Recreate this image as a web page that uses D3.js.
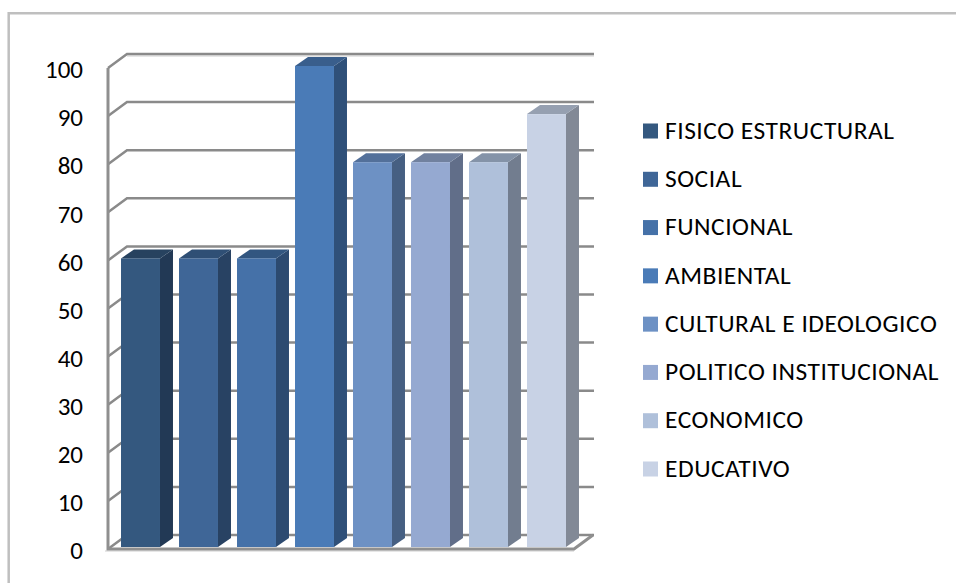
<!DOCTYPE html>
<html>
<head>
<meta charset="utf-8">
<script src="https://cdn.jsdelivr.net/npm/d3@7"></script>
<style>
  html, body { margin: 0; padding: 0; background: #fff; }
  text { font-family: Carlito, Lato, sans-serif; fill: #000; }
</style>
</head>
<body>
<div id="chart"></div>
<script>
var categories = ["FISICO ESTRUCTURAL", "SOCIAL", "FUNCIONAL", "AMBIENTAL",
    "CULTURAL E IDEOLOGICO", "POLITICO INSTITUCIONAL", "ECONOMICO", "EDUCATIVO"];
var values = [60, 60, 60, 100, 80, 80, 80, 90];
var yTicks = [0, 10, 20, 30, 40, 50, 60, 70, 80, 90, 100];
var frontColors = ["#34587f", "#3f6697", "#4571a8", "#4a7bb7", "#6d91c4", "#95a9d1", "#afc0da", "#c8d2e5"];
var sideColors = ["#223955", "#284263", "#2c4a70", "#2f5079", "#465f82", "#616e89", "#727d8f", "#828996"];
var topColors = ["#27425f", "#2f4f75", "#325680", "#395e8c", "#53709a", "#71819f", "#8493a8", "#96a0b1"];

var width = 956, height = 583;
var dx = 19, dy = -14;       // wall depth
var barDx = 13, barDy = -9;  // bar depth
var axisX = 108, floorEnd = 574;

var svg = d3.select("#chart").append("svg")
    .attr("width", width)
    .attr("height", height)
    .style("display", "block");

// chart frame, runs off the picture on the right and bottom
svg.append("path")
    .attr("d", "M8.7,583V13.2H956")
    .attr("fill", "none")
    .attr("stroke", "#bfbfbf")
    .attr("stroke-width", 2.5);

var x = d3.scaleBand()
    .domain(categories)
    .range([111.5, 575.5])
    .paddingInner(0.328)
    .paddingOuter(0.164);

var y = d3.scaleLinear().domain([0, 100]).range([547, 66]);

// light edge under the top grid line
svg.append("path")
    .attr("d", "M" + (axisX + dx) + "," + (y(100) + 2 + dy + 2) + "H" + (floorEnd + dx + 1))
    .attr("stroke", "#dedede")
    .attr("stroke-width", 1.5);

// grid lines on the back wall and the floor
var grid = svg.append("g");
yTicks.forEach(function(t) {
    var yy = y(t) + 2;
    grid.append("path")
        .attr("d", "M" + axisX + "," + yy + "L" + (axisX + dx) + "," + (yy + dy) + "H" + (floorEnd + dx + 1))
        .attr("fill", "none")
        .attr("stroke", "#8a8a8a")
        .attr("stroke-width", 2.5);
});

// floor front and left axis
svg.append("path")
    .attr("d", "M105," + (y(0) + 4) + "H" + floorEnd)
    .attr("stroke", "#dedede")
    .attr("stroke-width", 1.5);
svg.append("path")
    .attr("d", "M" + axisX + "," + (y(100) + 2) + "V" + (y(0) + 2) + "H" + floorEnd + "L" + (floorEnd + dx) + "," + (y(0) + 2 + dy))
    .attr("fill", "none")
    .attr("stroke", "#8f8f8f")
    .attr("stroke-width", 3);

// 3d bars
var bars = svg.selectAll("g.bar")
    .data(values)
    .enter()
    .append("g")
    .attr("class", "bar");

bars.append("path")
    .attr("fill", function(d, i) { return sideColors[i]; })
    .attr("d", function(d, i) {
        var x1 = x(categories[i]) + x.bandwidth();
        return "M" + x1 + "," + y(d) + "l" + barDx + "," + barDy + "V" + (y(0) + barDy) + "L" + x1 + "," + y(0) + "Z";
    });

bars.append("path")
    .attr("fill", function(d, i) { return topColors[i]; })
    .attr("d", function(d, i) {
        var x0 = x(categories[i]);
        return "M" + x0 + "," + y(d) + "l" + barDx + "," + barDy + "h" + x.bandwidth() + "l" + (-barDx) + "," + (-barDy) + "Z";
    });

bars.append("rect")
    .attr("fill", function(d, i) { return frontColors[i]; })
    .attr("x", function(d, i) { return x(categories[i]); })
    .attr("y", function(d) { return y(d); })
    .attr("width", x.bandwidth())
    .attr("height", function(d) { return y(0) - y(d); });

// y tick labels
svg.selectAll("text.tick")
    .data(yTicks)
    .enter()
    .append("text")
    .attr("class", "tick")
    .attr("x", 83)
    .attr("y", function(d) { return y(d) + 3.5; })
    .attr("dy", "0.35em")
    .attr("text-anchor", "end")
    .style("font-size", "25px")
    .text(function(d) { return d; });

// legend
var legendY = d3.scalePoint().domain(categories).range([131, 469]);

var legend = svg.selectAll("g.legend")
    .data(categories)
    .enter()
    .append("g")
    .attr("class", "legend")
    .attr("transform", function(d) { return "translate(643," + legendY(d) + ")"; });

legend.append("rect")
    .attr("y", -7.5)
    .attr("width", 15)
    .attr("height", 15)
    .attr("fill", function(d, i) { return frontColors[i]; });

legend.append("text")
    .attr("x", 22)
    .attr("dy", "0.3em")
    .style("font-size", "25.5px")
    .style("letter-spacing", "0.5px")
    .text(function(d) { return d; });
</script>
</body>
</html>
